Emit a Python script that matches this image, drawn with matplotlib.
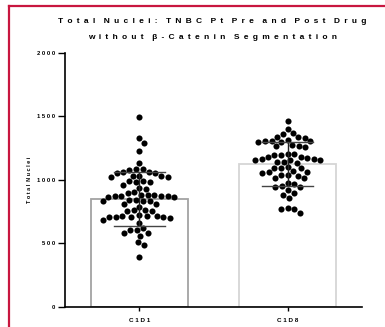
import numpy as np
import matplotlib
matplotlib.use("Agg")
import matplotlib.pyplot as plt
from matplotlib.lines import Line2D

# values
groups = ["C1D1", "C1D8"]
c1d1 = [1494, 1328, 1294, 1231, 1131,
        1086, 1083, 1080, 1062, 1060, 1057, 1054,
        1033, 1030, 1028, 1025, 1022,
        992, 988, 985, 982,
        958, 937, 932, 902, 898,
        884, 881, 879, 877, 875, 872, 870, 868, 866,
        845, 842, 838, 835, 832,
        812, 808, 790, 765, 762, 758, 755,
        722, 720, 718, 715, 712, 710, 708, 705, 702,
        685, 664, 622, 606, 603, 585, 582, 561, 512, 486, 391]
c1d8 = [1467, 1402, 1367, 1362, 1340, 1335, 1330,
        1312, 1309, 1306, 1303, 1300, 1297,
        1272, 1268, 1265, 1262,
        1205, 1202, 1200, 1198,
        1182, 1178, 1172, 1168, 1165, 1160, 1157, 1154,
        1145, 1140, 1136,
        1100, 1097, 1094, 1092,
        1072, 1066, 1060, 1055,
        1042, 1038, 1035, 1016, 1012, 976, 972,
        950, 945, 942, 921, 900, 882, 858,
        778, 772, 768, 740]
bar_means = [850, 1126]
bar_sd = [213, 172]
bar_edges = ["#a3a3a3", "#d5d5d5"]
yticks = [0, 500, 1000, 1500, 2000]


def spaced(s, gap="\u2002"):
    # GraphPad-style wide letter spacing
    return (gap * 2).join(gap.join(w) for w in s.split(" "))


def swarm_offsets(vals, d=6.7, ypx=254 / 2000, xpx=148.5):
    # simple beeswarm in pixel space, points kept at least d px apart
    y = np.asarray(vals, dtype=float) * ypx
    offs = np.zeros(len(y))
    px_, py_ = [], []
    for idx in np.argsort(-y):
        yy = y[idx]
        cands = [0.0]
        for a, b in zip(px_, py_):
            dy = yy - b
            if abs(dy) < d:
                dx = np.sqrt(d * d - dy * dy)
                cands += [a + dx, a - dx]
        cands.sort(key=abs)
        for c in cands:
            if all((c - a) ** 2 + (yy - b) ** 2 >= d * d - 1e-6
                   for a, b in zip(px_, py_)):
                break
        px_.append(c)
        py_.append(yy)
        offs[idx] = c / xpx
    return offs


plt.rcParams["font.family"] = ["Liberation Sans", "DejaVu Sans"]
plt.rcParams["font.weight"] = "bold"

fig = plt.figure(figsize=(3.85, 3.27), dpi=100)
ax = fig.add_axes([0.169, 0.0612, 0.771, 0.777])

x = np.arange(len(groups))
ax.bar(x, bar_means, width=0.655, color="white", edgecolor=bar_edges,
       linewidth=1.3, zorder=1)

for i, vals in enumerate([c1d1, c1d8]):
    ax.scatter(x[i] + swarm_offsets(vals), vals, s=4.4 ** 2, color="black",
               linewidths=0, zorder=3)

for i in range(len(groups)):
    lo, hi = bar_means[i] - bar_sd[i], bar_means[i] + bar_sd[i]
    ax.plot([x[i], x[i]], [lo, hi], color="#222222", lw=1.0, zorder=4)
    for yy in (lo, hi):
        ax.plot([x[i] - 0.17, x[i] + 0.17], [yy, yy], color="#444444",
                lw=1.0, zorder=4)

ax.set_xlim(-0.5, 1.5)
ax.set_ylim(0, 2000)
ax.set_xticks(x)
ax.set_xticklabels([spaced(g, gap=" ") for g in groups], fontsize=4.5,
                   fontweight="bold")
ax.set_yticks(yticks)
ax.set_yticklabels([spaced(str(t), gap=" ") for t in yticks], fontsize=4.2,
                   fontweight="bold")
ax.tick_params(axis="y", length=5, width=1.0, pad=2)
ax.tick_params(axis="x", length=3, width=1.0, pad=5)
ax.set_ylabel(spaced("Total Nuclei", gap=" "), fontsize=4, fontweight="bold",
              labelpad=4)
for side in ("top", "right"):
    ax.spines[side].set_visible(False)
for side in ("left", "bottom"):
    ax.spines[side].set_linewidth(1.2)

fig.text(0.551, 0.933, spaced("Total Nuclei: TNBC Pt Pre and Post Drug"),
         ha="center", va="center", fontsize=6, fontweight="bold")
fig.text(0.551, 0.886, spaced("without β-Catenin Segmentation"),
         ha="center", va="center", fontsize=6, fontweight="bold")

# red frame on top and left edges
red = "#c8163f"
fig.add_artist(Line2D([9 / 385, 1], [1 - 5.5 / 327, 1 - 5.5 / 327],
                      color=red, lw=1.6, transform=fig.transFigure))
fig.add_artist(Line2D([9 / 385, 9 / 385], [0, 1 - 5.5 / 327],
                      color=red, lw=1.6, transform=fig.transFigure))

fig.savefig("out.png", dpi=100)
